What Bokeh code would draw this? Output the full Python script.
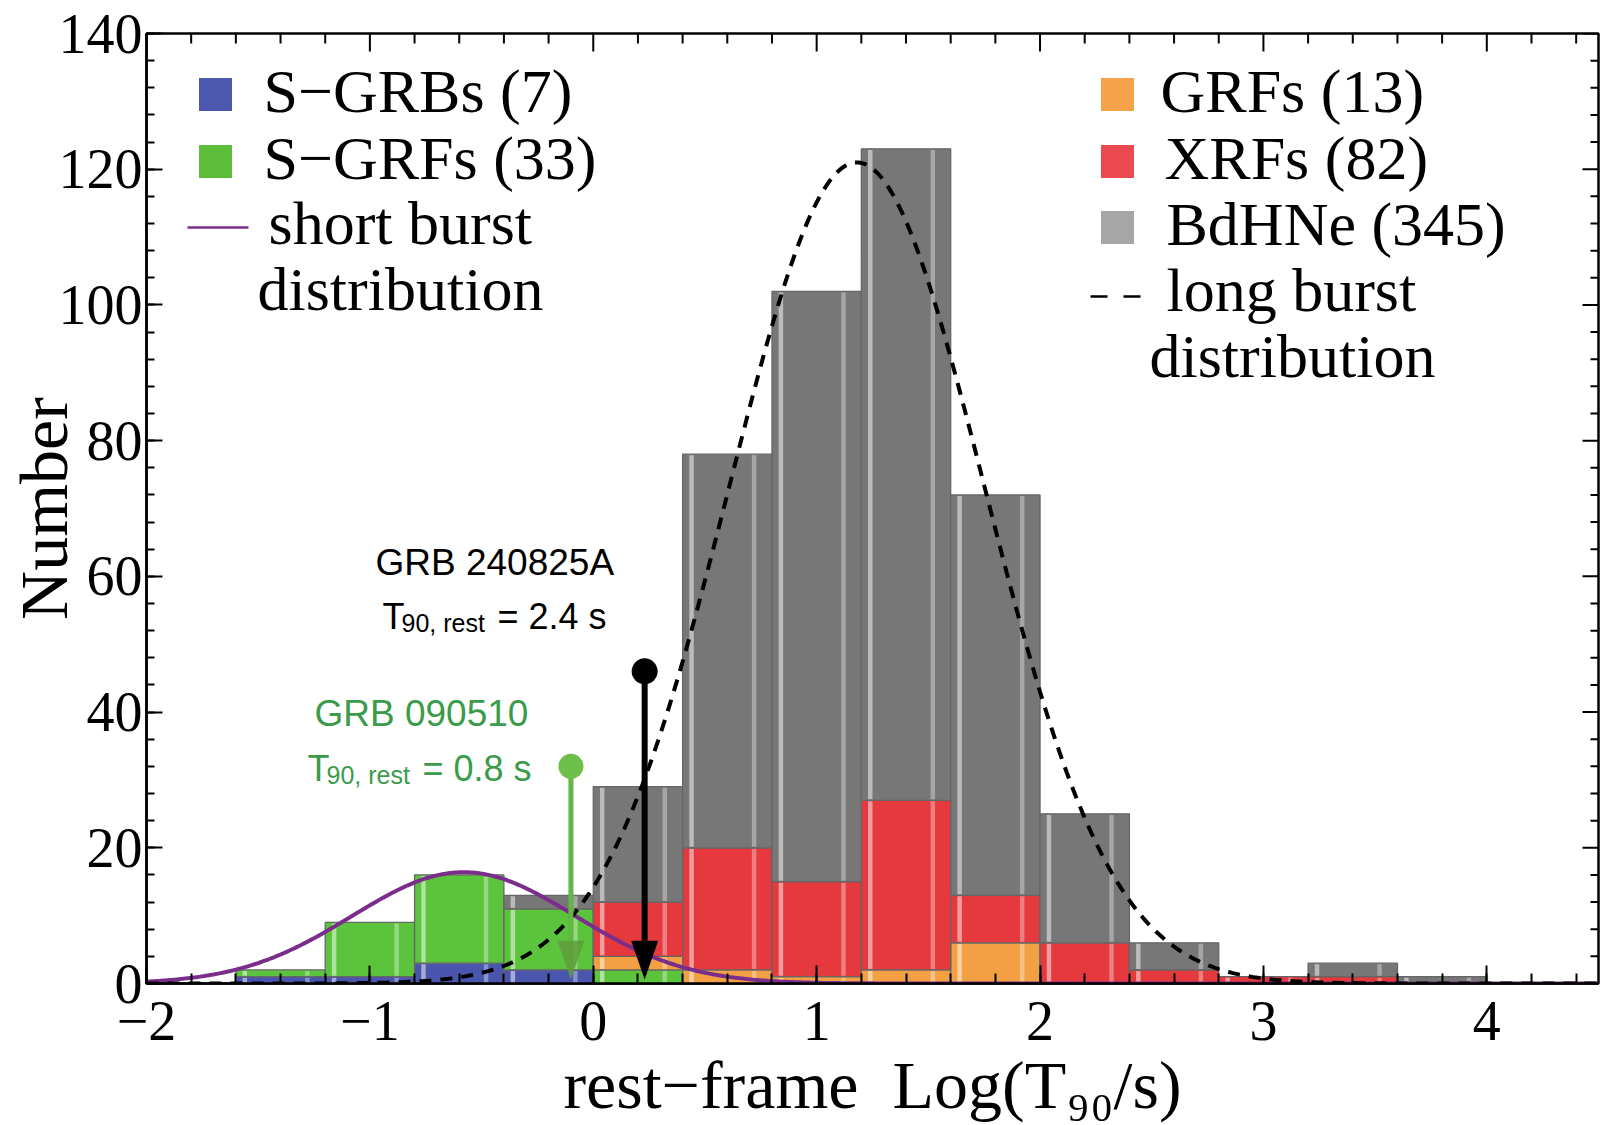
import numpy as np
from bokeh.plotting import figure
from bokeh.models import Range1d, SingleIntervalTicker, Label
from bokeh.embed import file_html
from bokeh.resources import INLINE

# ---------------- data ----------------
bin_left = [-1.6, -1.2, -0.8, -0.4, 0.0, 0.4, 0.8, 1.2, 1.6, 2.0, 2.4, 2.8, 3.2, 3.6]
BIN_W = 0.4
s_grbs = [1, 1, 3, 2, 0, 0, 0, 0, 0, 0, 0, 0, 0, 0]
s_grfs = [1, 8, 13, 9, 2, 0, 0, 0, 0, 0, 0, 0, 0, 0]
grfs   = [0, 0, 0, 0, 2, 2, 1, 2, 6, 0, 0, 0, 0, 0]
xrfs   = [0, 0, 0, 0, 8, 18, 14, 25, 7, 6, 2, 1, 1, 0]
bdhne  = [0, 0, 0, 2, 17, 58, 87, 96, 59, 19, 4, 0, 2, 1]

series_names = ["S−GRBs (7)", "S−GRFs (33)", "GRFs (13)", "XRFs (82)", "BdHNe (345)"]
series_vals = [s_grbs, s_grfs, grfs, xrfs, bdhne]
bar_colors = ["#4a56ae", "#5cc43c", "#f3a044", "#e6393d", "#777777"]
swatch_colors = ["#4c58ae", "#5cbd3b", "#f6a24a", "#ea4a4f", "#a6a6a6"]

# fitted distributions (amplitude, mean, sigma)
long_fit = (121.0, 1.18, 0.57)
short_fit = (16.4, -0.58, 0.50)

# marked bursts
arrow_x = [-0.10, 0.23]
arrow_top = [32.0, 46.0]

x_ticks = [-2, -1, 0, 1, 2, 3, 4]
x_tick_labels = ["−2", "−1", "0", "1", "2", "3", "4"]
y_major = [0, 20, 40, 60, 80, 100, 120, 140]

# ---------------- layout ----------------
W, H = 1601, 1125
PL, PR, PT, PB = 146, 1598, 33, 983   # frame edges, page pixels
X0, X1, Y0, Y1 = -2.0, 4.5, 0.0, 140.0
PXX = (X1 - X0) / (PR - PL)
PXY = (Y1 - Y0) / (PB - PT)


def dx(px):  # page pixel -> data x
    return X0 + (px - PL) * PXX


def dy(py):  # page pixel -> data y
    return Y0 + (PB - py) * PXY


p = figure(width=W, height=H, output_backend="svg", toolbar_location=None,
           x_range=Range1d(X0, X1), y_range=Range1d(Y0, Y1),
           min_border_left=PL, min_border_right=W - PR,
           min_border_top=PT, min_border_bottom=H - PB)
p.xgrid.visible = False
p.ygrid.visible = False
p.outline_line_color = "black"
p.outline_line_width = 2.5
p.background_fill_color = "white"
p.border_fill_color = "white"

SERIF = "Liberation Serif"
SANS = "Liberation Sans"


def style_axis(ax, major_in, minor_in):
    ax.major_tick_in = major_in
    ax.major_tick_out = 0
    ax.minor_tick_in = minor_in
    ax.minor_tick_out = 0
    ax.major_tick_line_width = 2
    ax.minor_tick_line_width = 2
    ax.major_tick_line_color = "black"
    ax.minor_tick_line_color = "black"
    ax.axis_line_width = 2.5
    ax.axis_line_color = "black"
    ax.major_label_text_font = SERIF
    ax.major_label_text_font_size = "56px"
    ax.major_label_text_color = "black"
    ax.axis_label_text_font = SERIF
    ax.axis_label_text_font_size = "68px"
    ax.axis_label_text_font_style = "normal"
    ax.axis_label_text_color = "black"


xa = p.xaxis[0]
xa.ticker = SingleIntervalTicker(interval=1, num_minor_ticks=5)
xa.major_label_overrides = {t: l for t, l in zip(x_ticks, x_tick_labels)}
style_axis(xa, 18, 10)
xa.major_label_standoff = 18
xa.axis_label = "rest−frame\u00a0\u00a0Log(T₉₀/s)"
xa.axis_label_standoff = 4

ya = p.yaxis[0]
ya.ticker = SingleIntervalTicker(interval=20, num_minor_ticks=5)
style_axis(ya, 16, 8)
ya.major_label_standoff = 4
ya.axis_label = "Number"
ya.axis_label_standoff = -26

# mirrored ticks on the top and right frame edges
x_minor = [round(-2 + 0.2 * i, 1) for i in range(33) if i % 5 != 0]
p.segment(x0=x_ticks, y0=[Y1] * len(x_ticks), x1=x_ticks,
          y1=[Y1 - 18 * PXY] * len(x_ticks), line_color="black", line_width=2)
p.segment(x0=x_minor, y0=[Y1] * len(x_minor), x1=x_minor,
          y1=[Y1 - 10 * PXY] * len(x_minor), line_color="black", line_width=2)
y_minor = [v for v in range(0, 141, 4) if v % 20 != 0]
p.segment(x0=[X1] * len(y_major), y0=y_major, x1=[X1 - 16 * PXX] * len(y_major),
          y1=y_major, line_color="black", line_width=2)
p.segment(x0=[X1] * len(y_minor), y0=y_minor, x1=[X1 - 8 * PXX] * len(y_minor),
          y1=y_minor, line_color="black", line_width=2)

# ---------------- stacked bars ----------------
left = np.array(bin_left)
centers = left + BIN_W / 2
bottom = np.zeros(len(bin_left))
for vals, col in zip(series_vals, bar_colors):
    v = np.array(vals, dtype=float)
    top = bottom + v
    m = v > 0
    if m.any():
        p.vbar(x=centers[m], width=BIN_W, bottom=bottom[m], top=top[m],
               fill_color=col, line_color="#666666", line_width=1.3)
        p.vbar(x=left[m] + 0.10 * BIN_W, width=0.05 * BIN_W,
               bottom=bottom[m] + 0.15, top=top[m] - 0.15,
               fill_color="white", fill_alpha=0.5, line_color=None)
        p.vbar(x=left[m] + 0.80 * BIN_W, width=0.05 * BIN_W,
               bottom=bottom[m] + 0.15, top=top[m] - 0.15,
               fill_color="white", fill_alpha=0.35, line_color=None)
    bottom = top

# ---------------- fitted curves ----------------
xs = np.linspace(X0, X1, 651)
A, mu, sg = short_fit
p.line(xs, A * np.exp(-(xs - mu) ** 2 / (2 * sg ** 2)), line_color="#7b2d8c", line_width=4)
A, mu, sg = long_fit
p.line(xs, A * np.exp(-(xs - mu) ** 2 / (2 * sg ** 2)), line_color="black",
       line_width=4, line_dash="12 9")

# ---------------- arrows ----------------
HEAD_TOP, HEAD_TIP = 6.3, 0.6
half_w = 13.5 * PXX
styles = [dict(shaft="#62b843", head="#5f9c3c", head_alpha=0.85, dot="#6cc04a", lw=5, size=25),
          dict(shaft="black", head="black", head_alpha=1.0, dot="black", lw=6, size=26)]
for xa_, yt, st in zip(arrow_x, arrow_top, styles):
    p.segment(x0=[xa_], y0=[yt], x1=[xa_], y1=[HEAD_TOP], line_color=st["shaft"],
              line_width=st["lw"])
    p.patch([xa_ - half_w, xa_ + half_w, xa_], [HEAD_TOP, HEAD_TOP, HEAD_TIP],
            fill_color=st["head"], fill_alpha=st["head_alpha"], line_color=None)
    p.scatter([xa_], [yt], marker="circle", size=st["size"], fill_color=st["dot"],
              line_color=None)


# ---------------- annotation texts ----------------
BASE_SHIFT = 0.33  # em; Bokeh's alphabetic anchor sits below the visual baseline


def lab(text, px, py, size, color="black", font=SANS, style="normal"):
    p.add_layout(Label(x=dx(px), y=dy(py - BASE_SHIFT * size), text=text, text_font=font,
                       text_font_size=f"{size}px", text_color=color,
                       text_font_style=style, text_align="left",
                       text_baseline="alphabetic"))


GREEN_TXT = "#3a9b4a"
lab("GRB 240825A", 375, 574, 37)
lab("T", 382, 628, 36)
lab("90, rest", 401, 631, 25)
lab("= 2.4 s", 497, 628, 36)
lab("GRB 090510", 314, 725, 37, GREEN_TXT)
lab("T", 307, 780, 36, GREEN_TXT)
lab("90, rest", 326, 783, 25, GREEN_TXT)
lab("= 0.8 s", 422, 780, 36, GREEN_TXT)

# ---------------- legend ----------------
LEG = 62
sw_pos = [(215, 94), (215, 161), (1117, 94), (1117, 161), (1117, 227)]
for (sx, sy), col in zip(sw_pos, swatch_colors):
    p.scatter([dx(sx)], [dy(sy)], marker="square", size=33, fill_color=col, line_color=None)
txt_pos = [(263, 111), (263, 178), (1160, 111), (1164, 178), (1166, 244)]
for (tx, ty), name in zip(txt_pos, series_names):
    lab(name, tx, ty, LEG, font=SERIF)
p.line([dx(187), dx(248)], [dy(227), dy(227)], line_color="#7b2d8c", line_width=2.5)
lab("short burst", 268, 243, LEG, font=SERIF)
lab("distribution", 257, 309, LEG, font=SERIF)
p.line([dx(1090), dx(1141)], [dy(296), dy(296)], line_color="black", line_width=2.5,
       line_dash="17 16")
lab("long burst", 1166, 310, LEG, font=SERIF)
lab("distribution", 1149, 376, LEG, font=SERIF)

open("out.html", "w").write(file_html(p, INLINE))
